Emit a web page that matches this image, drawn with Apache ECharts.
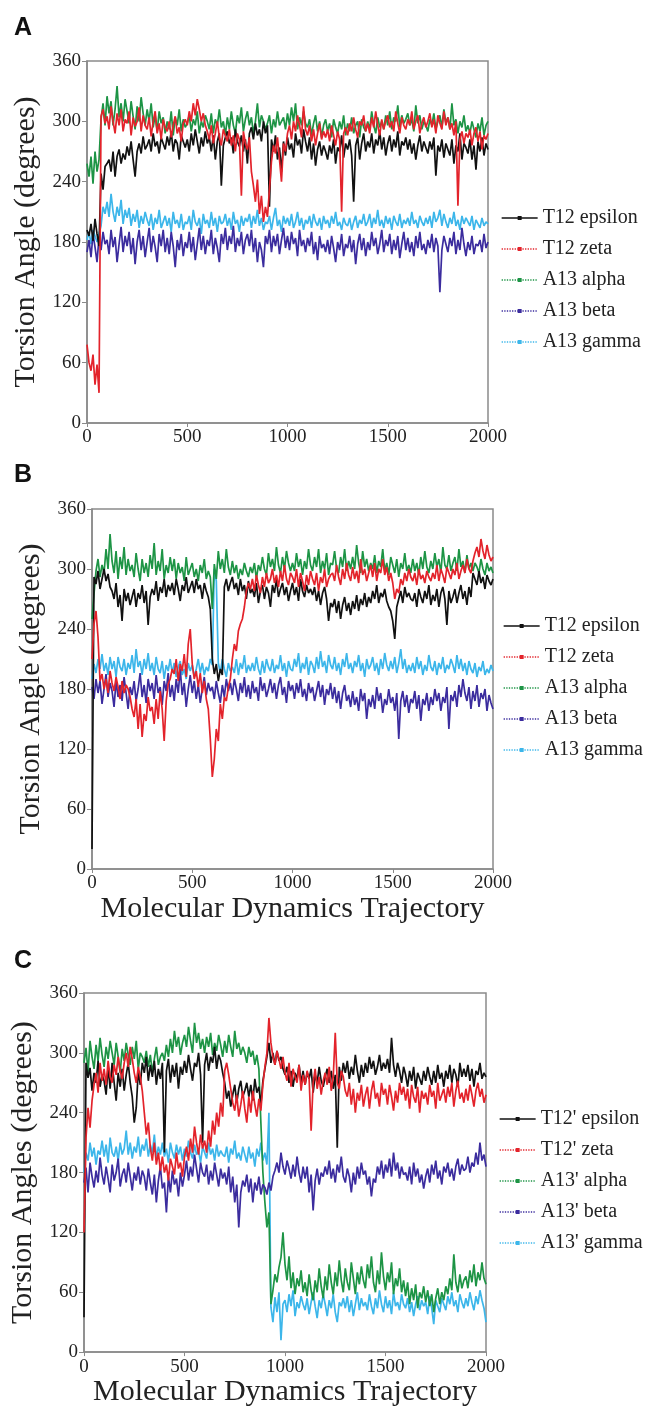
<!DOCTYPE html>
<html>
<head>
<meta charset="utf-8">
<script src="https://cdn.jsdelivr.net/npm/echarts@6/dist/echarts.min.js"></script>
<style>
html,body{margin:0;padding:0;background:#fff;}
#chart{width:652px;height:1408px;}
</style>
</head>
<body>
<div id="chart"></div>
<script>
// ---- data: torsion angle (degrees) sampled every FRAME_STEP frames, frames 0..2000 ----
const FRAME_STEP = 10;
const yTicks = [0, 60, 120, 180, 240, 300, 360];
const xTicks = [0, 500, 1000, 1500, 2000];

const namesAB = ['T12 epsilon', 'T12 zeta', 'A13 alpha', 'A13 beta', 'A13 gamma'];
const namesC = ["T12' epsilon", "T12' zeta", "A13' alpha", "A13' beta", "A13' gamma"];

// Panel A
const aEpsilon = [
192,186,198,181,203,188,176,248,232,255,
258,262,250,270,245,265,272,258,268,262,
275,266,280,262,245,270,278,268,285,272,
276,282,270,288,275,280,268,284,278,272,
285,276,290,270,282,278,262,286,280,274,
282,270,288,276,292,280,268,284,275,290,
278,284,270,286,262,280,288,236,276,284,
290,278,284,268,292,280,275,286,270,282,
258,288,294,282,298,286,292,280,300,288,
296,215,282,270,286,262,274,250,280,266,
284,272,278,264,288,276,282,268,292,280,
270,284,262,278,256,272,280,266,276,270,
262,276,268,282,258,274,270,286,264,278,
272,282,266,220,276,284,262,278,288,270,
280,274,288,268,282,276,290,272,284,266,
278,286,270,282,274,290,266,280,276,284,
272,282,268,278,262,276,286,270,280,274,
268,280,272,284,246,276,270,282,264,278,
272,266,282,258,276,270,288,262,278,274,
268,282,262,276,252,280,270,284,266,278,272];
const aZeta = [
78,60,52,68,38,58,30,305,312,298,
305,292,315,300,288,308,296,312,290,302,
298,310,286,304,295,300,314,290,306,296,
292,304,285,300,310,288,298,282,302,294,
290,300,284,296,305,288,294,280,298,302,
296,310,300,318,306,322,312,300,308,296,
290,282,296,278,288,300,284,276,292,286,
280,292,276,286,270,288,282,226,290,278,
272,284,250,236,220,242,208,226,200,215,
205,232,260,276,268,284,262,240,278,270,
288,296,282,300,290,306,296,284,315,292,
286,296,280,292,276,288,298,282,290,284,
292,280,296,286,276,290,282,210,288,294,
286,298,290,304,292,284,300,296,306,290,
298,288,304,294,310,296,286,302,292,300,
306,294,300,290,310,298,288,304,296,292,
302,296,310,292,300,306,288,298,304,294,
300,308,294,302,288,306,298,292,310,296,
304,292,298,286,300,216,282,290,278,288,
284,292,276,288,294,280,290,272,286,282,288];
const aAlpha = [
258,245,265,238,270,250,262,302,318,296,
325,308,320,296,312,335,304,318,300,322,
310,298,320,305,292,315,300,324,308,296,
312,300,318,294,306,290,310,298,304,288,
300,292,310,286,304,296,312,290,302,294,
298,306,290,302,296,310,288,300,294,306,
300,292,308,288,302,296,312,294,300,286,
304,292,310,296,288,306,298,314,290,302,
310,296,304,288,300,318,294,306,300,292,
298,306,288,302,294,310,296,300,304,292,
308,296,314,300,318,292,304,296,310,298,
294,302,286,298,306,290,300,284,296,302,
290,298,284,302,294,288,300,292,306,286,
298,290,304,288,296,300,284,302,294,290,
300,292,310,296,288,304,294,300,292,306,
296,310,292,304,300,316,294,306,298,302,
308,296,302,290,316,298,306,292,300,296,
290,302,296,308,292,300,306,294,312,298,
304,292,318,296,302,288,300,294,306,290,
296,288,300,292,284,298,290,304,286,296,300];
const aBeta = [
170,182,165,188,175,160,185,172,190,178,
182,168,192,175,185,160,178,195,170,186,
176,190,168,184,158,180,192,172,186,165,
180,194,170,186,175,160,188,176,192,170,
184,168,190,176,155,182,172,188,166,180,
174,190,170,185,162,178,194,172,186,168,
182,176,192,168,184,174,160,188,178,194,
172,186,178,196,170,184,176,190,168,182,
188,176,192,170,184,160,180,172,155,186,
178,192,170,186,176,188,168,182,194,174,
186,172,190,178,184,166,192,176,182,170,
184,176,190,168,180,162,186,174,178,170,
182,168,186,174,160,180,172,188,166,178,
174,186,170,182,158,178,188,172,184,166,
180,172,190,176,184,168,178,192,170,182,
176,188,168,182,172,186,164,178,190,172,
184,170,180,166,186,174,190,172,178,168,
182,174,188,170,184,176,130,172,186,178,
170,184,176,190,168,182,172,194,178,166,
180,172,186,168,178,176,182,170,188,174,180];
const aGamma = [
182,190,178,192,186,180,188,196,215,208,
220,205,228,210,200,215,206,222,198,212,
204,214,196,208,200,212,194,206,198,210,
202,196,208,192,204,198,212,194,200,206,
196,204,190,210,198,202,194,208,192,200,
198,206,192,212,200,196,204,188,208,198,
202,194,210,196,204,190,206,198,200,208,
196,204,192,210,198,202,190,206,196,204,
200,208,194,206,198,212,196,204,192,200,
198,206,192,204,214,196,202,190,206,198,
204,196,208,194,200,210,196,204,192,202,
198,206,194,208,200,196,204,192,206,198,
202,194,206,198,210,196,200,192,204,198,
196,204,192,200,206,194,202,198,208,196,
200,208,194,204,198,212,196,202,194,206,
198,204,192,206,200,196,208,194,202,198,
204,196,210,198,202,194,206,200,196,204,
198,206,194,210,200,204,212,196,208,200,
194,204,198,210,196,202,192,206,198,204,
200,196,206,192,202,198,194,204,196,200,198];

// Panel B
const bEpsilon = [
20,292,285,298,280,290,300,288,295,282,
278,270,286,262,274,248,280,268,276,264,
272,280,262,276,270,284,266,278,244,272,
280,274,288,268,282,276,290,272,284,278,
286,274,290,280,268,284,278,292,276,282,
288,276,290,280,284,270,286,278,272,260,
210,195,205,188,200,194,282,290,278,286,
292,280,286,274,290,278,284,270,288,276,
280,272,286,266,278,284,270,282,276,262,
284,276,290,272,280,286,274,282,268,278,
286,274,282,268,290,278,272,284,276,280,
274,282,268,278,264,276,282,270,248,266,
262,270,256,268,250,264,272,258,266,254,
268,260,274,258,270,264,276,262,272,266,
278,270,284,266,276,272,280,268,262,258,
248,230,262,270,278,266,282,272,276,270,
268,276,262,280,272,266,278,270,284,264,
274,268,280,262,276,282,270,244,278,266,
272,280,266,276,284,270,278,264,282,272,
296,290,284,298,286,292,280,294,288,284,290];
const bZeta = [
210,245,258,232,188,195,180,190,176,198,
186,178,192,182,170,188,176,184,180,172,
160,152,170,140,165,132,155,148,172,158,
162,145,170,150,178,160,128,168,185,190,
200,195,210,188,205,198,215,192,225,240,
205,190,198,182,196,176,188,170,160,130,
92,110,140,128,165,150,172,168,182,190,
210,225,218,238,245,250,262,278,286,280,
290,278,294,284,276,292,282,296,286,290,
300,286,294,282,298,288,304,290,284,296,
292,286,300,282,296,288,278,294,284,298,
290,284,296,278,292,286,300,282,290,294,
296,288,304,292,284,300,290,306,294,288,
302,290,298,286,310,294,300,288,296,304,
292,306,288,300,296,310,294,302,288,296,
286,270,280,276,290,284,296,288,300,292,
288,296,284,300,290,294,286,298,292,288,
296,290,304,288,300,294,286,302,296,290,
300,294,306,290,298,304,296,310,300,296,
308,316,322,312,330,318,310,324,314,308,312];
const bAlpha = [
250,275,298,310,292,304,296,320,300,335,
308,296,318,290,312,300,322,294,310,298,
304,292,316,300,288,310,296,306,292,314,
300,326,294,308,298,320,290,304,296,312,
298,310,290,306,296,302,288,312,294,300,
306,292,300,288,304,296,310,290,298,292,
260,305,290,318,300,310,296,320,302,294,
308,296,304,290,300,294,306,298,292,302,
296,306,290,304,298,312,300,294,316,302,
310,298,322,304,296,312,300,318,306,298,
306,298,316,302,310,294,308,300,320,304,
298,312,302,320,296,308,300,316,294,306,
304,318,300,296,312,302,320,298,308,300,
312,300,324,306,296,318,302,310,298,306,
300,314,296,308,302,320,298,306,294,312,
304,296,310,292,306,300,316,298,304,296,
310,298,306,294,312,300,318,302,296,308,
300,316,302,310,296,322,304,300,314,298,
306,312,298,320,302,308,296,314,300,306,
298,306,302,296,310,300,294,306,298,302,296];
const bBeta = [
182,170,190,176,188,165,180,195,172,186,
178,162,188,172,184,168,192,176,160,182,
174,188,168,180,196,172,184,166,190,178,
186,170,194,176,182,164,188,178,196,172,
184,168,190,176,200,174,186,162,180,194,
176,188,170,184,166,180,192,174,186,178,
182,170,188,176,166,184,172,190,178,186,
174,190,180,168,186,176,192,172,184,170,
188,176,182,168,192,178,186,172,180,190,
176,186,170,184,192,174,182,166,188,178,
184,170,186,176,190,172,180,168,186,176,
182,168,178,188,172,184,164,180,174,186,
170,182,166,178,160,176,184,168,174,162,
178,164,172,158,180,168,176,150,170,162,
174,160,182,168,176,156,170,164,180,166,
172,158,176,130,168,178,162,174,156,170,
166,178,160,174,148,170,164,176,158,172,
164,180,168,176,158,172,166,182,140,174,
168,178,162,184,172,190,176,168,182,160,
178,168,184,162,176,170,180,158,174,166,160];
const bGamma = [
190,205,196,210,200,215,198,206,194,212,
200,208,192,212,202,198,210,194,206,200,
214,196,220,202,208,194,210,200,216,198,
206,194,212,200,196,208,190,204,198,210,
196,206,192,202,208,194,200,190,206,198,
204,192,200,210,196,206,194,202,198,210,
204,300,288,206,196,210,200,192,206,198,
202,196,210,194,206,200,214,196,204,198,
206,198,212,200,194,208,196,210,202,198,
210,196,204,200,214,198,206,192,208,200,
198,210,202,216,196,206,200,212,194,208,
204,196,212,200,218,202,208,196,214,204,
200,212,198,206,194,210,202,216,200,206,
196,208,202,214,198,206,192,210,200,204,
212,198,206,194,210,200,216,204,198,208,
200,212,196,206,220,200,210,196,204,198,
206,196,212,200,208,194,204,198,214,202,
198,208,194,206,200,212,196,204,200,210,
204,196,214,200,210,198,206,194,208,200,
196,206,192,202,198,208,194,200,196,204,198];

// Panel C
const cEpsilon = [
35,290,275,285,262,280,270,292,266,278,
272,258,286,264,290,270,252,280,266,284,
262,278,290,270,256,230,245,282,268,290,
280,296,272,288,276,292,268,284,274,290,
200,282,294,270,288,276,290,264,286,278,
292,280,298,284,272,290,286,300,278,210,
288,300,282,296,290,306,284,298,292,280,
270,254,262,246,258,268,250,264,272,256,
262,270,256,268,252,274,260,266,248,272,
284,296,310,290,300,288,302,292,296,284,
278,286,270,282,266,280,274,288,270,282,
268,280,274,284,260,278,270,286,272,266,
276,284,270,282,264,278,205,286,272,290,
280,292,274,286,278,298,282,270,288,276,
290,280,296,284,292,278,286,298,282,290,
284,294,280,315,288,276,290,282,270,286,
278,266,282,272,286,264,280,274,268,282,
272,286,276,268,282,270,288,274,280,266,
282,274,288,270,284,278,266,290,276,284,
276,288,272,284,266,282,278,290,274,280,276];
const cZeta = [
120,215,245,225,252,268,280,260,290,272,
284,268,292,276,270,288,278,296,282,274,
290,300,286,306,294,280,270,286,276,262,
240,218,230,205,192,210,188,200,182,196,
180,188,172,194,186,178,200,184,190,176,
196,206,192,214,200,226,210,198,218,204,
212,200,222,206,232,218,240,226,250,236,
282,290,278,264,250,242,258,236,248,262,
244,230,256,240,262,248,236,254,242,268,
286,300,335,310,296,288,302,294,284,296,
280,272,290,266,284,276,270,288,262,278,
268,282,274,222,270,284,264,276,258,272,
280,268,286,262,276,320,270,264,282,276,
262,256,270,248,264,240,260,252,268,246,
258,266,244,262,272,254,260,246,270,258,
264,248,268,256,242,262,250,270,258,266,
252,264,244,268,256,250,266,240,262,254,
260,248,268,256,262,244,270,252,258,264,
250,266,256,270,246,262,272,254,260,250,
264,252,268,258,246,262,270,256,264,250,258];
const cAlpha = [
290,305,280,312,296,284,308,292,315,298,
286,306,294,312,300,288,310,296,280,304,
292,310,298,288,306,294,312,284,300,296,
290,302,286,298,280,294,306,288,296,300,
292,308,296,314,300,322,306,316,298,310,
318,306,326,312,300,330,310,320,304,314,
300,316,306,320,298,310,302,318,308,296,
312,300,318,306,296,322,304,310,298,306,
300,290,306,296,302,288,298,284,230,180,
150,125,140,48,62,78,70,85,95,120,
88,72,96,64,80,58,74,66,82,60,
70,56,78,62,52,72,60,84,66,54,
76,62,88,70,58,80,66,92,72,60,
84,70,62,90,74,58,80,68,86,72,
64,88,74,96,70,60,82,68,100,76,
62,80,70,90,58,74,66,84,60,72,
56,70,48,64,52,68,44,60,54,66,
50,62,46,58,40,54,64,48,60,52,
66,58,74,62,98,70,60,78,64,72,
76,64,82,70,88,66,80,72,90,74,68];
const cBeta = [
170,185,160,190,176,165,182,170,195,178,
168,186,174,160,188,172,180,194,166,178,
184,170,190,176,162,180,172,186,168,182,
176,162,184,170,158,178,150,172,186,164,
170,140,176,160,182,168,174,156,180,166,
178,192,172,186,176,198,184,170,190,180,
176,188,168,182,172,190,178,166,184,174,
180,168,186,160,176,150,168,125,160,172,
166,178,160,174,150,170,162,176,158,168,
165,158,170,162,176,182,190,180,200,186,
178,192,184,174,188,176,196,180,170,186,
174,186,160,178,142,172,184,168,180,176,
186,178,192,174,184,170,188,180,196,176,
170,184,176,160,180,168,186,174,190,178,
182,168,176,156,174,170,186,178,192,174,
188,180,194,176,200,182,190,174,186,178,
180,172,186,168,190,176,184,170,178,164,
176,184,170,188,178,192,174,182,168,186,
180,190,176,184,172,186,194,178,188,182,
184,196,180,190,186,200,188,210,192,198,186];
const cGamma = [
180,200,192,210,196,205,188,202,198,212,
196,208,190,215,200,196,206,192,210,198,
204,222,198,210,194,206,200,216,196,208,
202,214,196,208,200,218,194,206,198,210,
196,204,190,210,200,194,208,198,206,192,
204,196,212,200,194,208,198,202,190,206,
200,194,210,198,204,192,208,196,202,198,
196,206,190,204,198,212,194,200,192,206,
198,190,206,194,200,186,204,196,210,192,
200,188,240,45,30,55,40,60,12,48,
52,40,58,46,62,36,50,44,56,48,
42,54,38,50,60,46,34,52,44,58,
48,36,52,44,58,40,30,50,46,54,
44,56,40,52,36,48,60,42,54,46,
50,42,58,46,38,54,44,62,48,40,
56,44,52,38,60,46,50,42,58,48,
44,54,40,50,36,48,56,42,52,46,
50,38,56,44,28,52,46,40,54,48,
42,56,48,60,46,52,40,58,50,44,
54,46,60,50,42,56,48,62,52,44,30];

// ---- chart ----
const COLORS = {eps:'#111111', zeta:'#e3232b', alpha:'#1d9445', beta:'#3b2c9e', gamma:'#3cb6ea'};
const SERIF = '"Liberation Serif", "Times New Roman", serif';

const panels = [
  {grid:{left:87, top:61, width:401, height:362}, yName:'Torsion Angle (degrees)', xName:'',
   names:namesAB, data:[aEpsilon,aZeta,aAlpha,aBeta,aGamma], legendTop:202, legendLeft:496},
  {grid:{left:92, top:509, width:401, height:360}, yName:'Torsion Angle (degrees)', xName:'Molecular Dynamics Trajectory',
   names:namesAB, data:[bEpsilon,bZeta,bAlpha,bBeta,bGamma], legendTop:610, legendLeft:498},
  {grid:{left:84, top:993, width:402, height:361}, yName:'Torsion Angles (degrees)', xName:'Molecular Dynamics Trajectory',
   names:namesC, data:[cEpsilon,cZeta,cAlpha,cBeta,cGamma], legendTop:1103, legendLeft:494}
];

const toPoints = vals => vals.map((v,i) => [i*FRAME_STEP, v]);
const styleKeys = ['eps','zeta','alpha','beta','gamma'];
const drawOrder = [4,2,3,0,1]; // gamma, alpha, beta, epsilon, zeta

const option = {
  animation:false,
  backgroundColor:'#fff',
  grid:[], xAxis:[], yAxis:[], series:[], legend:[],
  graphic:[
    {type:'text', left:14, top:16, style:{text:'A', font:'bold 25px "Liberation Sans", Arial, sans-serif', fill:'#111'}},
    {type:'text', left:14, top:463, style:{text:'B', font:'bold 25px "Liberation Sans", Arial, sans-serif', fill:'#111'}},
    {type:'text', left:14, top:949, style:{text:'C', font:'bold 25px "Liberation Sans", Arial, sans-serif', fill:'#111'}}
  ]
};

panels.forEach((p, pi) => {
  option.grid.push(Object.assign({show:true, borderColor:'#8a8a8a', borderWidth:1.5, backgroundColor:'#fff'}, p.grid));
  option.xAxis.push({
    type:'value', gridIndex:pi, min:xTicks[0], max:xTicks[xTicks.length-1], interval:500,
    axisLine:{show:true, lineStyle:{color:'#8a8a8a', width:1.5}},
    axisTick:{show:true, length:4, lineStyle:{color:'#8a8a8a'}},
    axisLabel:{fontFamily:SERIF, fontSize:19, color:'#222', margin:5, showMinLabel:true, showMaxLabel:true,
               formatter: v => String(v)},
    splitLine:{show:false},
    name:p.xName, nameLocation:'middle', nameGap:20,
    nameTextStyle:{fontFamily:SERIF, fontSize:30, color:'#222', verticalAlign:'top'}
  });
  option.yAxis.push({
    type:'value', gridIndex:pi, min:yTicks[0], max:yTicks[yTicks.length-1], interval:60,
    axisLine:{show:true, lineStyle:{color:'#8a8a8a', width:1.5}},
    axisTick:{show:true, length:5, lineStyle:{color:'#8a8a8a'}},
    axisLabel:{fontFamily:SERIF, fontSize:19, color:'#222', margin:6, formatter: v => String(v)},
    splitLine:{show:false},
    name:p.yName, nameLocation:'middle', nameGap:42, nameRotate:90,
    nameTextStyle:{fontFamily:SERIF, fontSize:30, color:'#222'}
  });
  option.legend.push({
    orient:'vertical', left:p.legendLeft, top:p.legendTop,
    data:p.names.map((n, i) => ({
      name:n,
      itemStyle:{color:COLORS[styleKeys[i]], opacity:1},
      lineStyle:{color:COLORS[styleKeys[i]], width:1.3, type:i===0?'solid':'dotted', opacity:1}
    })),
    itemWidth:36, itemHeight:5, itemGap:9,
    textStyle:{fontFamily:SERIF, fontSize:20, color:'#222', lineHeight:22},
    selectedMode:false
  });
  drawOrder.forEach(si => {
    const k = styleKeys[si];
    option.series.push({
      type:'line', name:p.names[si], xAxisIndex:pi, yAxisIndex:pi,
      data:toPoints(p.data[si]),
      showSymbol:false, symbol:'rect', symbolSize:4,
      color:COLORS[k],
      lineStyle:{color:COLORS[k], width:1.7, type:'solid'},
      itemStyle:{color:COLORS[k]},
      silent:true, z:2+drawOrder.indexOf(si)
    });
  });
});

// white band that cuts the lower part of panel A's x tick labels, as in the source figure
option.graphic.push({type:'rect', left:60, top:443, shape:{width:470, height:18}, style:{fill:'#fff'}, z:100});

const chart = echarts.init(document.getElementById('chart'), null, {renderer:'canvas'});
chart.setOption(option);
</script>
</body>
</html>
